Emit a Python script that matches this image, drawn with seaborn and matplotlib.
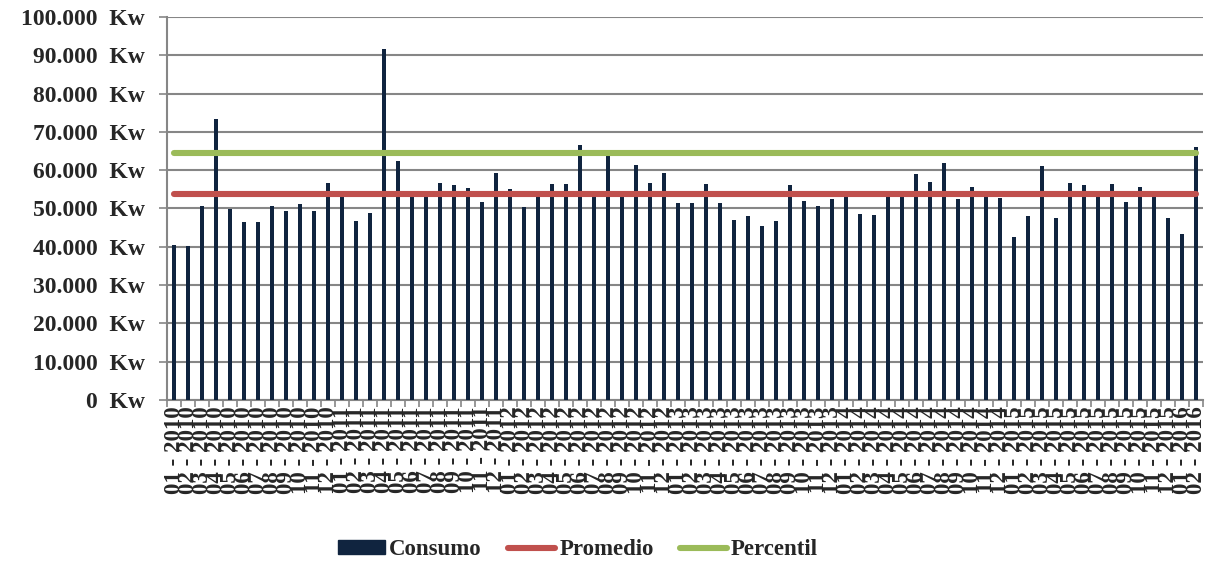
import numpy as np
import pandas as pd
import matplotlib
matplotlib.use("Agg")
import matplotlib.pyplot as plt
from matplotlib.patches import Patch
from matplotlib.lines import Line2D
import seaborn as sns

# Monthly periods, January 2010 to February 2016
periodos = [f"{m:02d} - {a}" for a in range(2010, 2017) for m in range(1, 13)][:74]

# Monthly consumption (kW)
consumo = [
    40500, 40150, 50700, 73260, 49740, 46430, 46430, 50700, 49400, 51130, 49400, 56700,
    53600, 46780, 48780, 91720, 62280, 53900, 53400, 56700, 56010, 55310, 51740, 59320,
    54970, 50350, 53700, 56360, 56360, 66550, 53500, 64000, 53800, 61240, 56700, 59320,
    51390, 51390, 56360, 51390, 47040, 48000, 45470, 46780, 56010, 52000, 50700, 52350,
    53600, 48690, 48340, 53900, 53500, 59060, 56970, 61930, 52350, 55660, 53700, 52790,
    42510, 48080, 60980, 47390, 56700, 56010, 53800, 56360, 51740, 55660, 53600, 47390,
    43470, 65940,
]

promedio = 53830
percentil = 64460

y_ticks = [0, 10000, 20000, 30000, 40000, 50000, 60000, 70000, 80000, 90000, 100000]
y_labels = ["0  Kw", "10.000  Kw", "20.000  Kw", "30.000  Kw", "40.000  Kw", "50.000  Kw",
            "60.000  Kw", "70.000  Kw", "80.000  Kw", "90.000  Kw", "100.000  Kw"]

NAVY = "#10243F"
RED = "#C0504D"
GREEN = "#9BBB59"
GRID = "#868686"

sns.set_theme(style="white")
plt.rcParams["font.family"] = ["Liberation Serif", "DejaVu Serif"]
plt.rcParams["font.weight"] = "bold"

fig = plt.figure(figsize=(12.07, 5.65), dpi=100)
ax = fig.add_axes([167 / 1207, 1 - 400 / 565, 1036 / 1207, 383 / 565])

df = pd.DataFrame({"periodo": periodos, "consumo": consumo})
sns.barplot(data=df, x="periodo", y="consumo", order=periodos, color=NAVY,
            saturation=1, width=0.25, linewidth=0, ax=ax, zorder=3)

n = len(periodos)
x_pos = np.arange(n)
ax.plot(x_pos, [promedio] * n, color=RED, lw=4.4, solid_capstyle="round", zorder=4)
ax.plot(x_pos, [percentil] * n, color=GREEN, lw=4.4, solid_capstyle="round", zorder=4)

ax.set_xlim(-0.5, n - 0.5)
ax.set_ylim(0, 100000)
ax.set_xlabel("")
ax.set_ylabel("")

# y axis: gridlines and labels
ax.set_yticks(y_ticks)
ax.set_yticklabels(y_labels, fontsize=17, fontweight="bold")
ax.yaxis.grid(True, color=GRID, lw=1.5, zorder=0)
ax.set_axisbelow(True)
ax.tick_params(axis="y", which="major", left=True, length=5.5, width=1.2,
               color=GRID, pad=10.5)

# x axis: labels centred on categories, ticks between them
ax.set_xticks(x_pos)
ax.set_xticklabels(periodos, rotation=90, fontsize=16.5, fontweight="bold")
ax.tick_params(axis="x", which="major", length=0, pad=4.5)
ax.set_xticks(np.arange(-0.5, n, 1), minor=True)
ax.tick_params(axis="x", which="minor", bottom=True, length=5, width=1.2, color=GRID)

for side in ["top", "right"]:
    ax.spines[side].set_visible(False)
for side in ["left", "bottom"]:
    ax.spines[side].set_color(GRID)
    ax.spines[side].set_linewidth(1.5)

handles = [
    Patch(facecolor=NAVY, edgecolor=NAVY),
    Line2D([0], [0], color=RED, lw=4.4, solid_capstyle="round"),
    Line2D([0], [0], color=GREEN, lw=4.4, solid_capstyle="round"),
]
fig.legend(handles, ["Consumo", "Promedio", "Percentil"], loc="center",
           bbox_to_anchor=(0.479, 0.027), ncol=3, frameon=False,
           prop={"family": "Liberation Serif", "weight": "bold", "size": 16.5},
           handlelength=2.05, handleheight=0.55, handletextpad=0.18, columnspacing=1.15)

fig.savefig("out.png", dpi=100)
